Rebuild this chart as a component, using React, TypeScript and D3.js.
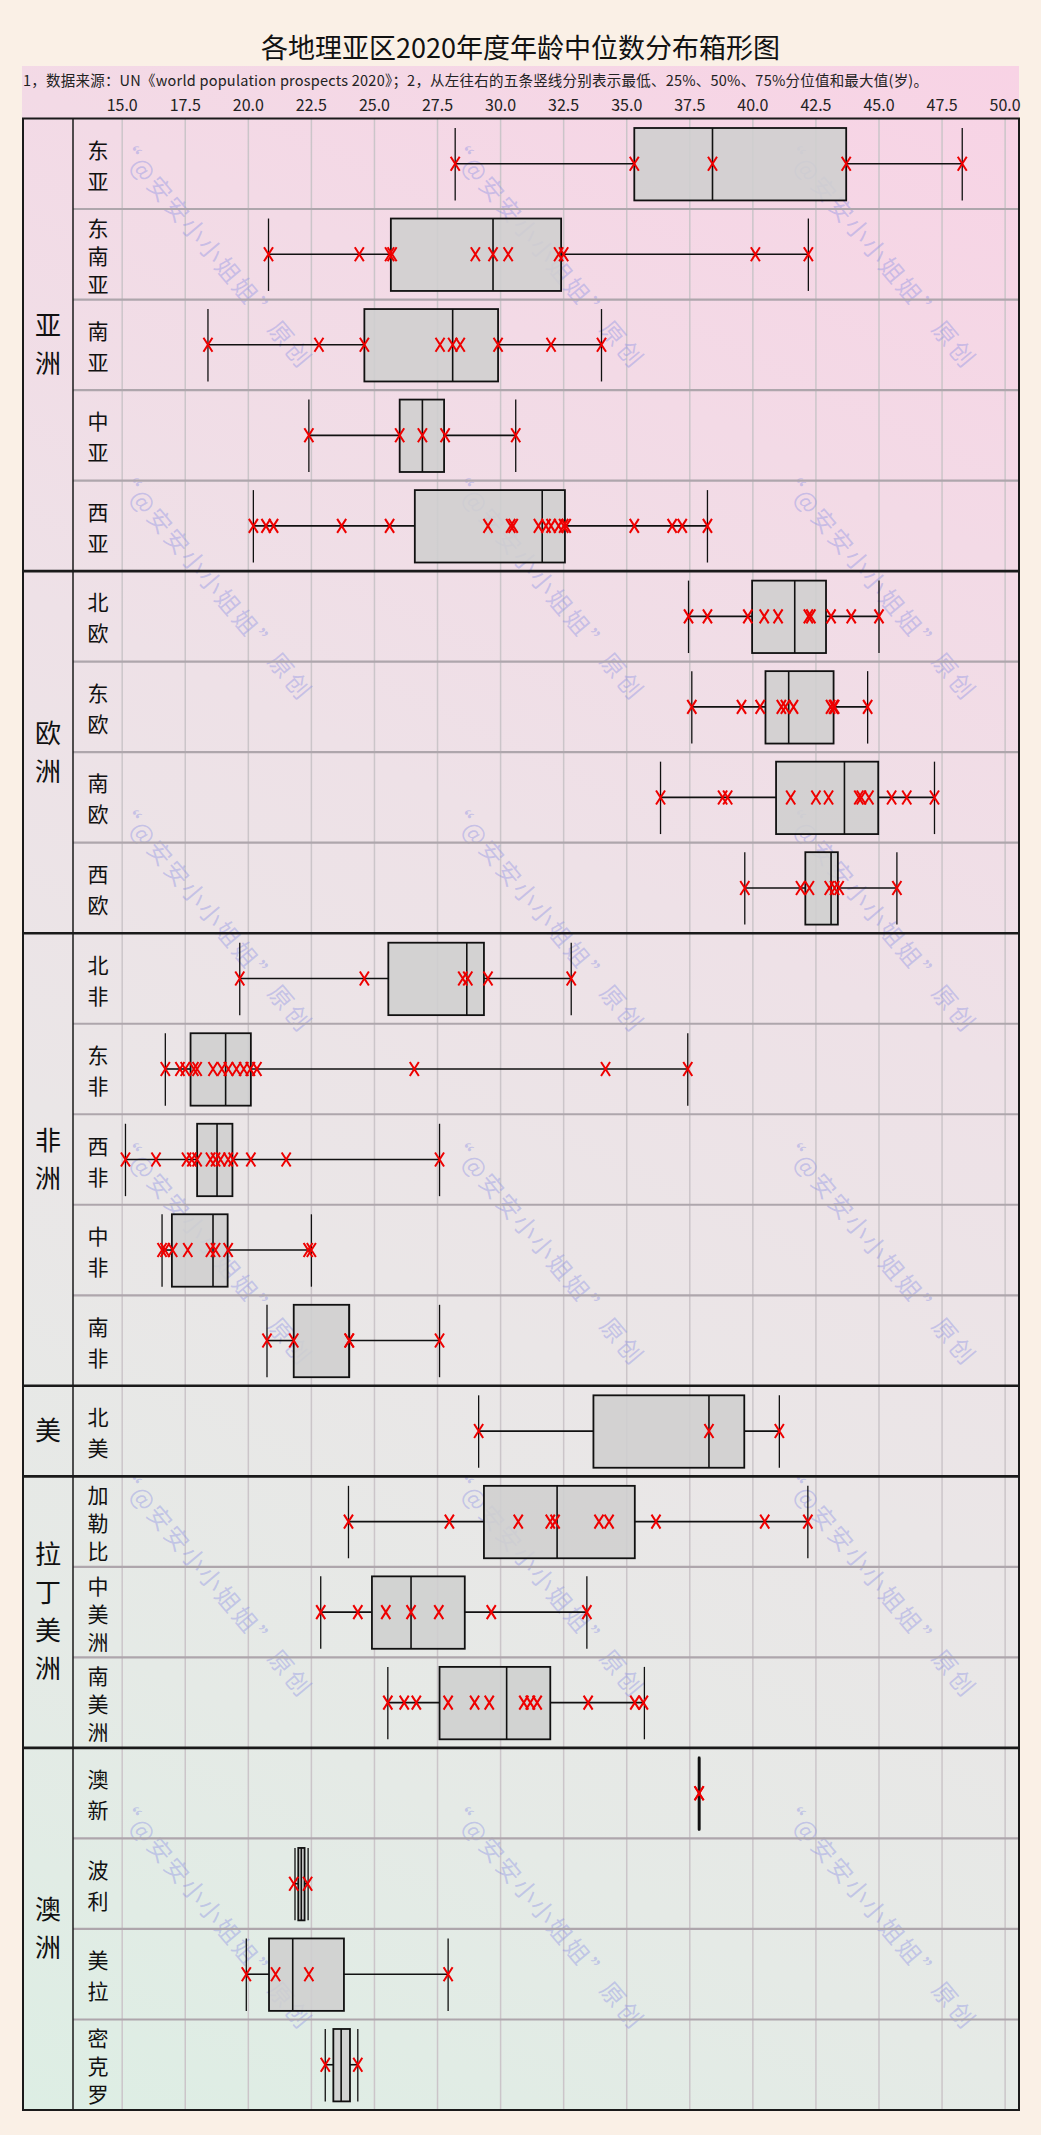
import React from "react";
import * as d3 from "d3";

const titleText = "各地理亚区2020年度年龄中位数分布箱形图";
const noteText =
  "1，数据来源：UN《world population prospects 2020》；2，从左往右的五条竖线分别表示最低、25%、50%、75%分位值和最大值(岁)。";

const groupNames = ["亚洲", "欧洲", "非洲", "美", "拉丁美洲", "澳洲"];

const subregions = [
  "东亚", "东南亚", "南亚", "中亚", "西亚",
  "北欧", "东欧", "南欧", "西欧",
  "北非", "东非", "西非", "中非", "南非",
  "北美",
  "加勒比", "中美洲", "南美洲",
  "澳新", "波利", "美拉", "密克罗",
];

const subregionGroup = [
  "亚洲", "亚洲", "亚洲", "亚洲", "亚洲",
  "欧洲", "欧洲", "欧洲", "欧洲",
  "非洲", "非洲", "非洲", "非洲", "非洲",
  "美",
  "拉丁美洲", "拉丁美洲", "拉丁美洲",
  "澳洲", "澳洲", "澳洲", "澳洲",
];

const minValues = [28.2, 20.8, 18.4, 22.4, 20.2, 37.45, 37.58, 36.34, 39.68, 19.66, 16.71, 15.13, 16.58, 20.74, 29.13, 23.97, 22.87, 25.53, 37.84, 21.85, 19.92, 23.05];
const q1Values = [35.3, 25.65, 24.6, 26.0, 26.6, 39.97, 40.5, 40.92, 42.08, 25.55, 17.71, 17.97, 16.97, 21.8, 33.68, 29.34, 24.9, 27.58, 37.86, 21.98, 20.82, 23.37];
const medianValues = [38.4, 29.7, 28.1, 26.9, 31.65, 41.66, 41.42, 43.63, 43.1, 28.66, 19.1, 18.76, 18.6, 24.0, 38.26, 32.24, 26.45, 30.24, 37.87, 22.1, 21.76, 23.68];
const q3Values = [43.7, 32.4, 29.9, 27.76, 32.55, 42.9, 43.2, 44.97, 43.37, 29.34, 20.1, 19.37, 19.18, 24.0, 39.66, 35.32, 28.58, 31.97, 37.88, 22.23, 23.79, 24.03];
const maxValues = [48.3, 42.2, 34.0, 30.6, 38.2, 45.0, 44.55, 47.2, 45.71, 32.8, 37.42, 27.58, 22.5, 27.58, 41.05, 42.18, 33.42, 35.7, 37.9, 22.37, 27.92, 24.34];

const countryValues: number[][] = [
  [28.2, 35.3, 38.4, 43.7, 48.3],
  [20.8, 24.4, 25.6, 25.7, 29.0, 29.7, 30.3, 32.3, 32.5, 40.1, 42.2],
  [18.4, 22.8, 24.6, 27.6, 28.1, 28.4, 29.9, 32.0, 34.0],
  [22.4, 26.0, 26.9, 27.8, 30.6],
  [20.2, 20.7, 21.0, 23.7, 25.6, 29.5, 30.4, 30.5, 31.5, 31.8, 32.0, 32.3, 32.5, 32.6, 35.3, 36.8, 37.2, 38.2],
  [37.45, 38.2, 39.8, 40.45, 41.0, 42.2, 42.3, 43.1, 43.9, 45.0],
  [37.58, 39.55, 40.29, 41.13, 41.29, 41.61, 43.08, 43.2, 43.24, 44.55],
  [36.34, 38.8, 39.0, 41.5, 42.5, 43.0, 44.2, 44.3, 44.6, 45.5, 46.1, 47.2],
  [39.68, 41.89, 42.24, 43.03, 43.24, 43.42, 45.71],
  [19.66, 24.6, 28.5, 28.7, 29.5, 32.8],
  [16.71, 17.29, 17.5, 17.84, 17.97, 18.6, 18.95, 19.21, 19.53, 19.82, 20.08, 20.34, 26.58, 34.16, 37.42],
  [15.13, 16.34, 17.55, 17.76, 17.97, 18.5, 18.7, 18.9, 19.2, 19.4, 20.1, 21.5, 27.58],
  [16.58, 16.7, 17.0, 17.6, 18.5, 18.7, 19.2, 22.37, 22.5],
  [20.74, 21.8, 24.0, 24.0, 27.58],
  [29.13, 38.26, 41.05],
  [23.97, 27.97, 30.7, 31.97, 32.16, 33.9, 34.3, 36.16, 40.47, 42.18],
  [22.87, 24.34, 25.45, 26.45, 27.55, 29.63, 33.42],
  [25.53, 26.18, 26.66, 27.92, 28.97, 29.55, 30.92, 31.18, 31.45, 33.47, 35.32, 35.66],
  [37.87, 37.87],
  [21.8, 22.35],
  [19.92, 21.08, 22.4, 27.92],
  [23.05, 24.34],
];

const tickValues = [15, 17.5, 20, 22.5, 25, 27.5, 30, 32.5, 35, 37.5, 40, 42.5, 45, 47.5, 50];

const watermarkCols = [112, 444, 776];
const watermarkRows = [146, 478, 810, 1143, 1475, 1807];

const W = 1041;
const H = 2135;
const FRAME_LEFT = 23;
const LABEL_RIGHT = 73;
const PLOT_RIGHT = 1019;
const HEADER_TOP = 66;
const PLOT_TOP = 118.5;
const PLOT_BOTTOM = 2110;
const FONT = "'Noto Sans CJK SC', 'Noto Sans', sans-serif";

export default function App() {
  const x = d3.scaleLinear().domain([13.05, 50.55]).range([LABEL_RIGHT, PLOT_RIGHT]);
  const y = d3.scaleBand<string>().domain(subregions).range([PLOT_TOP, PLOT_BOTTOM]);
  const bw = y.bandwidth();
  const boxPad = bw * 0.105;
  const boxH = bw * 0.8;

  const groupExtents = groupNames.map((g) => {
    const idx = subregions.map((s, i) => i).filter((i) => subregionGroup[i] === g);
    const first = idx[0];
    const last = idx[idx.length - 1];
    return { g, top: y(subregions[first])!, bottom: y(subregions[last])! + bw, first, last };
  });

  const fmt = d3.format(".1f");

  return (
    <svg
      width={W}
      height={H}
      viewBox={`0 0 ${W} ${H}`}
      style={{ position: "absolute", left: 0, top: 0, display: "block" }}
      fontFamily={FONT}
    >
      <defs>
        <linearGradient id="bgGrad" gradientUnits="userSpaceOnUse" x1={PLOT_RIGHT} y1={HEADER_TOP} x2={FRAME_LEFT} y2={PLOT_BOTTOM}>
          <stop offset="0" stopColor="#f8d3e5" />
          <stop offset="0.2" stopColor="#f3dae6" />
          <stop offset="0.4" stopColor="#eee1e7" />
          <stop offset="0.6" stopColor="#eae6e7" />
          <stop offset="0.8" stopColor="#e5eae6" />
          <stop offset="1" stopColor="#ddeee4" />
        </linearGradient>
      </defs>
      <rect x={0} y={0} width={W} height={H} fill="#faf0e6" />
      <rect x={FRAME_LEFT - 1} y={HEADER_TOP} width={PLOT_RIGHT - FRAME_LEFT + 1} height={PLOT_BOTTOM - HEADER_TOP} fill="url(#bgGrad)" />

      <text x={W / 2} y={58} textAnchor="middle" fontSize={27} fill="#111">
        {titleText}
      </text>
      <text x={FRAME_LEFT} y={86} fontSize={14.5} fill="#222" textLength={905} lengthAdjust="spacing">
        {noteText}
      </text>

      {tickValues.map((t) => (
        <text key={"tl" + t} x={x(t)} y={110.5} textAnchor="middle" fontSize={16} fill="#222">
          {fmt(t)}
        </text>
      ))}

      {tickValues.map((t) => (
        <line key={"g" + t} x1={x(t)} x2={x(t)} y1={PLOT_TOP} y2={PLOT_BOTTOM} stroke="#cbc5c9" strokeWidth={1.5} />
      ))}

      {/* watermark */}
      <g fill="#8e92e4" fillOpacity={0.42} fontSize={24}>
        {watermarkRows.map((wy) =>
          watermarkCols.map((wx) => (
            <g key={`wm${wx}-${wy}`} transform={`translate(${wx},${wy}) rotate(50)`}>
              <text x={0} y={0} letterSpacing={2.5}>
                “@安安小小姐姐”
              </text>
              <text x={240} y={0} letterSpacing={3}>
                原创
              </text>
            </g>
          ))
        )}
      </g>

      {/* row separators */}
      {subregions.map((s, i) => {
        if (i === 0) return null;
        const isGroupStart = subregionGroup[i] !== subregionGroup[i - 1];
        if (isGroupStart) return null;
        const yy = y(s)!;
        return <line key={"rs" + s} x1={LABEL_RIGHT} x2={PLOT_RIGHT} y1={yy} y2={yy} stroke="#aea6ac" strokeWidth={2.2} />;
      })}

      {/* boxes */}
      {subregions.map((s, i) => {
        const top = y(s)! + boxPad;
        const mid = y(s)! + bw / 2;
        const bot = top + boxH;
        return (
          <g key={"b" + s}>
            <line x1={x(minValues[i])} x2={x(q1Values[i])} y1={mid} y2={mid} stroke="#111" strokeWidth={1.6} />
            <line x1={x(q3Values[i])} x2={x(maxValues[i])} y1={mid} y2={mid} stroke="#111" strokeWidth={1.6} />
            <rect
              x={x(q1Values[i])}
              y={top}
              width={Math.max(0, x(q3Values[i]) - x(q1Values[i]))}
              height={boxH}
              fill="#cfcfcf"
              fillOpacity={0.88}
              stroke="#111"
              strokeWidth={1.8}
            />
            <line x1={x(medianValues[i])} x2={x(medianValues[i])} y1={top} y2={bot} stroke="#111" strokeWidth={1.6} />
            <line x1={x(minValues[i])} x2={x(minValues[i])} y1={top} y2={bot} stroke="#111" strokeWidth={1.3} />
            <line x1={x(maxValues[i])} x2={x(maxValues[i])} y1={top} y2={bot} stroke="#111" strokeWidth={1.3} />
            {countryValues[i].map((v, k) => (
              <path
                key={k}
                transform={`translate(${x(v)},${mid})`}
                d="M-4.5,-7L4.5,7M-4.5,7L4.5,-7"
                stroke="#ee0000"
                strokeWidth={2}
                fill="none"
              />
            ))}
          </g>
        );
      })}

      {/* subregion labels */}
      {subregions.map((s) => {
        const chars = Array.from(s);
        const spacing = chars.length > 2 ? 28 : 31;
        const cy = y(s)! + bw / 2 + 2;
        const start = cy - ((chars.length - 1) * spacing) / 2;
        return (
          <g key={"sl" + s}>
            {chars.map((c, k) => (
              <text key={k} x={98} y={start + k * spacing} dy="0.36em" textAnchor="middle" fontSize={21} fill="#111">
                {c}
              </text>
            ))}
          </g>
        );
      })}

      {/* group labels and separators */}
      {groupExtents.map((ge, gi) => {
        const chars = Array.from(ge.g);
        const spacing = 38;
        const cy = (ge.top + ge.bottom) / 2;
        const start = cy - ((chars.length - 1) * spacing) / 2;
        return (
          <g key={"gl" + ge.g}>
            {chars.map((c, k) => (
              <text key={k} x={48} y={start + k * spacing} dy="0.36em" textAnchor="middle" fontSize={26} fill="#111">
                {c}
              </text>
            ))}
            {gi > 0 && (
              <line x1={FRAME_LEFT} x2={PLOT_RIGHT} y1={ge.top} y2={ge.top} stroke="#1a1a1a" strokeWidth={2.6} />
            )}
          </g>
        );
      })}

      <line x1={LABEL_RIGHT} x2={LABEL_RIGHT} y1={PLOT_TOP} y2={PLOT_BOTTOM} stroke="#1a1a1a" strokeWidth={1.5} />
      <rect
        x={FRAME_LEFT}
        y={PLOT_TOP}
        width={PLOT_RIGHT - FRAME_LEFT}
        height={PLOT_BOTTOM - PLOT_TOP}
        fill="none"
        stroke="#1a1a1a"
        strokeWidth={2}
      />
    </svg>
  );
}
